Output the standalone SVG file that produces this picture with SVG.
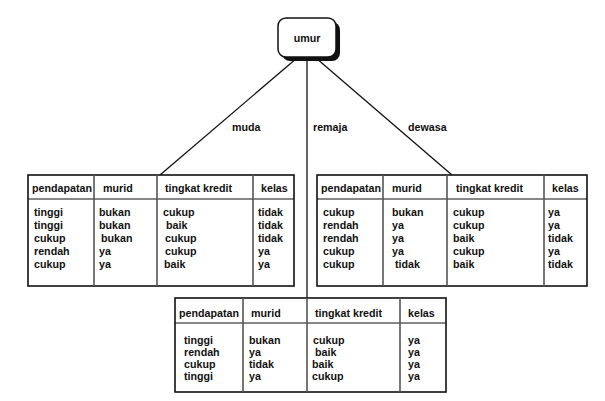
<svg xmlns="http://www.w3.org/2000/svg" width="605" height="401" viewBox="0 0 605 401">
<style>
text{font-family:"Liberation Sans",Arial,sans-serif;font-size:10.7px;font-weight:bold;fill:#111}
.tb{fill:#fff;stroke:#111;stroke-width:1.6}
.hl{stroke:#111;stroke-width:1.2}
.dv{stroke:#555;stroke-width:1.6}
.cn{stroke:#111;stroke-width:1.3;fill:none}
</style>
<rect width="605" height="401" fill="#fff"/>
<g id="connectors">
<line class="cn" x1="297" y1="58" x2="160" y2="175"/>
<line class="cn" x1="307" y1="58" x2="307" y2="298"/>
<line class="cn" x1="316" y1="58" x2="452" y2="175"/>
<text x="232" y="131">muda</text>
<text x="313" y="131">remaja</text>
<text x="408" y="131">dewasa</text>
</g>
<g id="umur">
<rect x="282" y="22" width="58" height="39" rx="8" fill="#111"/>
<rect x="278" y="18" width="58" height="39" rx="8" fill="#fff" stroke="#111" stroke-width="1.5"/>
<text x="307" y="42" text-anchor="middle">umur</text>
</g>
<g id="tabel-muda">
<rect class="tb" x="28" y="175" width="266" height="111"/>
<line class="hl" x1="28" y1="199" x2="294" y2="199"/>
<line class="dv" x1="94" y1="175" x2="94" y2="286"/>
<line class="dv" x1="157" y1="175" x2="157" y2="286"/>
<line class="dv" x1="253" y1="175" x2="253" y2="286"/>
<text x="32" y="192">pendapatan</text><text x="103" y="192">murid</text><text x="165" y="192">tingkat kredit</text><text x="261" y="192">kelas</text>
<text x="34" y="216">tinggi</text><text x="34" y="229">tinggi</text><text x="34" y="242">cukup</text><text x="34" y="255">rendah</text><text x="34" y="268">cukup</text>
<text x="99" y="216">bukan</text><text x="99" y="229">bukan</text><text x="101" y="242">bukan</text><text x="99" y="255">ya</text><text x="99" y="268">ya</text>
<text x="163" y="216">cukup</text><text x="166" y="229">baik</text><text x="165" y="242">cukup</text><text x="165" y="255">cukup</text><text x="164" y="268">baik</text>
<text x="258" y="216">tidak</text><text x="258" y="229">tidak</text><text x="258" y="242">tidak</text><text x="258" y="255">ya</text><text x="258" y="268">ya</text>
</g>
<g id="tabel-dewasa">
<rect class="tb" x="317" y="175" width="270" height="111"/>
<line class="hl" x1="317" y1="199" x2="587" y2="199"/>
<line class="dv" x1="383" y1="175" x2="383" y2="286"/>
<line class="dv" x1="447" y1="175" x2="447" y2="286"/>
<line class="dv" x1="544" y1="175" x2="544" y2="286"/>
<text x="321" y="192">pendapatan</text><text x="392" y="192">murid</text><text x="456" y="192">tingkat kredit</text><text x="552" y="192">kelas</text>
<text x="323" y="216">cukup</text><text x="323" y="229">rendah</text><text x="323" y="242">rendah</text><text x="323" y="255">cukup</text><text x="323" y="268">cukup</text>
<text x="392" y="216">bukan</text><text x="392" y="229">ya</text><text x="392" y="242">ya</text><text x="392" y="255">ya</text><text x="395" y="268">tidak</text>
<text x="453" y="216">cukup</text><text x="453" y="229">cukup</text><text x="453" y="242">baik</text><text x="453" y="255">cukup</text><text x="453" y="268">baik</text>
<text x="548" y="216">ya</text><text x="548" y="229">ya</text><text x="548" y="242">tidak</text><text x="548" y="255">ya</text><text x="548" y="268">tidak</text>
</g>
<g id="tabel-remaja">
<rect class="tb" x="175" y="298" width="271" height="94"/>
<line class="hl" x1="175" y1="323" x2="446" y2="323"/>
<line class="dv" x1="243" y1="298" x2="243" y2="392"/>
<line class="dv" x1="307" y1="298" x2="307" y2="392"/>
<line class="dv" x1="400" y1="298" x2="400" y2="392"/>
<text x="179" y="317">pendapatan</text><text x="251" y="317">murid</text><text x="315" y="317">tingkat kredit</text><text x="408" y="317">kelas</text>
<text x="184" y="344">tinggi</text><text x="184" y="356">rendah</text><text x="184" y="368">cukup</text><text x="184" y="380">tinggi</text>
<text x="249" y="344">bukan</text><text x="249" y="356">ya</text><text x="249" y="368">tidak</text><text x="249" y="380">ya</text>
<text x="313" y="344">cukup</text><text x="315" y="356">baik</text><text x="312" y="368">baik</text><text x="312" y="380">cukup</text>
<text x="408" y="344">ya</text><text x="408" y="356">ya</text><text x="408" y="368">ya</text><text x="408" y="380">ya</text>
</g>
</svg>
